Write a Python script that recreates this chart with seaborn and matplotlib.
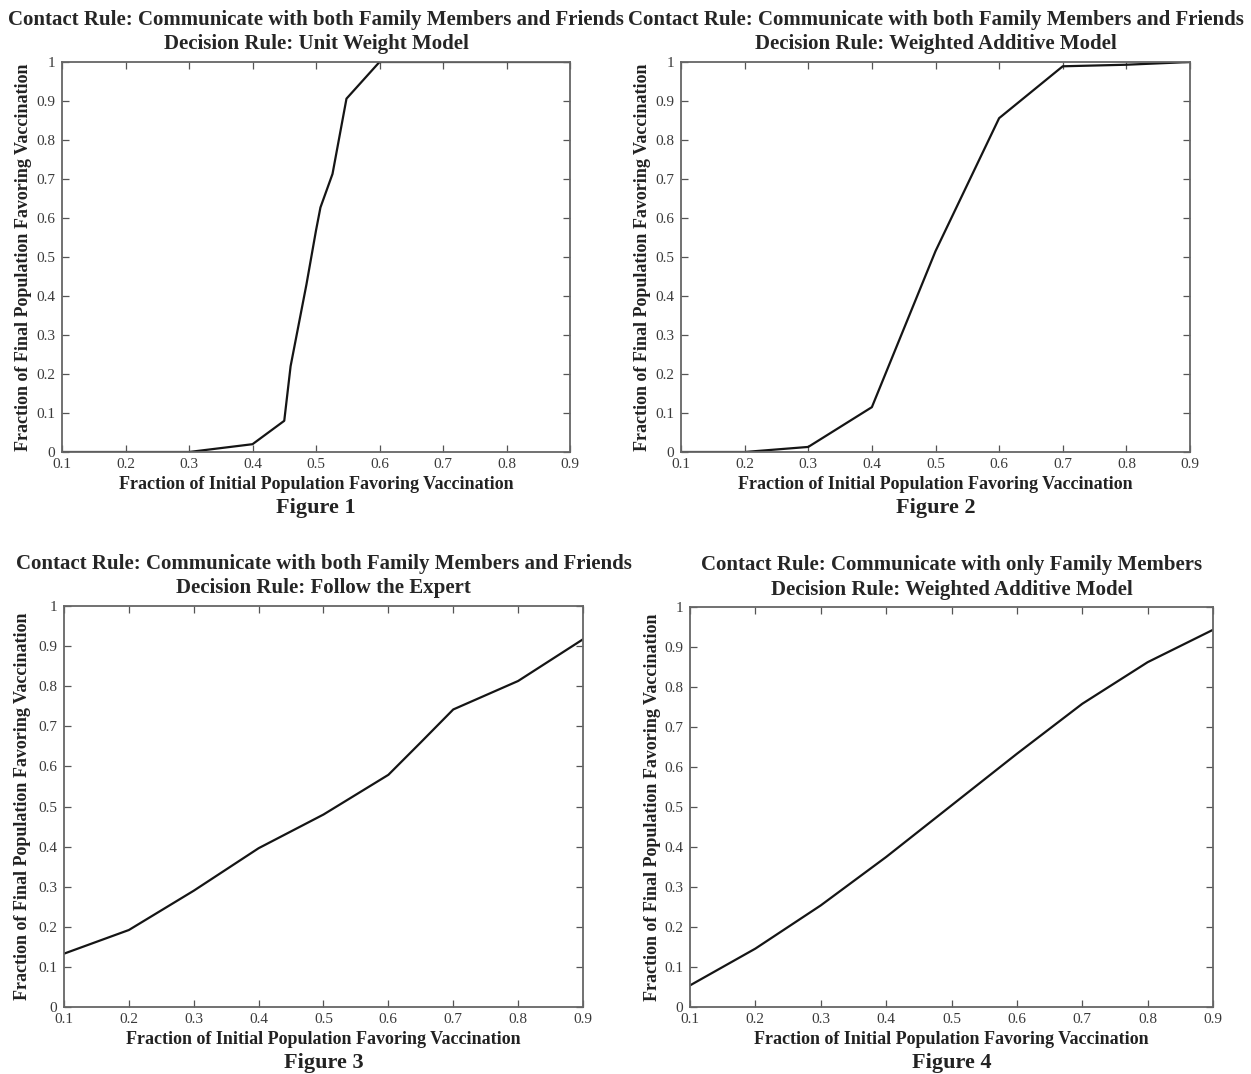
import matplotlib
matplotlib.use("Agg")
import matplotlib.pyplot as plt
import seaborn as sns
import pandas as pd

# Fraction of initial population favoring vaccination (x) vs final fraction (y)
x_fig1 = [0.1, 0.2, 0.3, 0.4, 0.45, 0.46, 0.485, 0.5, 0.507, 0.526, 0.548, 0.6, 0.7, 0.8, 0.9]
y_fig1 = [0.0, 0.0, 0.0, 0.02, 0.08, 0.22, 0.43, 0.568, 0.627, 0.713, 0.906, 1.0, 1.0, 1.0, 1.0]

x_fig2 = [0.1, 0.2, 0.3, 0.4, 0.5, 0.6, 0.7, 0.8, 0.9]
y_fig2 = [0.0, 0.0, 0.013, 0.115, 0.515, 0.856, 0.989, 0.993, 1.0]

x_fig3 = [0.1, 0.2, 0.3, 0.4, 0.5, 0.6, 0.65, 0.7, 0.8, 0.9]
y_fig3 = [0.133, 0.192, 0.29, 0.396, 0.48, 0.579, 0.66, 0.742, 0.813, 0.917]

x_fig4 = [0.1, 0.2, 0.3, 0.4, 0.5, 0.6, 0.7, 0.8, 0.9]
y_fig4 = [0.054, 0.146, 0.254, 0.375, 0.504, 0.633, 0.758, 0.862, 0.943]

titles = [
    "Contact Rule: Communicate with both Family Members and Friends\nDecision Rule: Unit Weight Model",
    "Contact Rule: Communicate with both Family Members and Friends\nDecision Rule: Weighted Additive Model",
    "Contact Rule: Communicate with both Family Members and Friends\nDecision Rule: Follow the Expert",
    "Contact Rule: Communicate with only Family Members\nDecision Rule: Weighted Additive Model",
]
figure_names = ["Figure 1", "Figure 2", "Figure 3", "Figure 4"]
x_label = "Fraction of Initial Population Favoring Vaccination"
y_label = "Fraction of Final Population Favoring Vaccination"
x_ticks = [0.1, 0.2, 0.3, 0.4, 0.5, 0.6, 0.7, 0.8, 0.9]
y_ticks = [0, 0.1, 0.2, 0.3, 0.4, 0.5, 0.6, 0.7, 0.8, 0.9, 1]
x_tick_labels = ["0.1", "0.2", "0.3", "0.4", "0.5", "0.6", "0.7", "0.8", "0.9"]
y_tick_labels = ["0", "0.1", "0.2", "0.3", "0.4", "0.5", "0.6", "0.7", "0.8", "0.9", "1"]

sns.set_theme(style="ticks")
plt.rcParams["font.family"] = ["Liberation Serif", "DejaVu Serif"]

W, H = 1251, 1074
fig = plt.figure(figsize=(W / 100, H / 100), dpi=100)
fig.patch.set_facecolor("white")

# axes boxes in pixels: left, right, top, bottom
boxes = [
    (62, 570, 62, 452),
    (681, 1190, 62, 452),
    (64, 583, 606, 1007),
    (690, 1213, 607, 1007),
]
ylabel_pad = [3, 3, 5, 2]

series = [(x_fig1, y_fig1), (x_fig2, y_fig2), (x_fig3, y_fig3), (x_fig4, y_fig4)]

for i, ((l, r, t, b), (xs, ys)) in enumerate(zip(boxes, series)):
    ax = fig.add_axes([l / W, 1 - b / H, (r - l) / W, (b - t) / H])
    df = pd.DataFrame({"x": xs, "y": ys})
    sns.lineplot(data=df, x="x", y="y", ax=ax, color="#151515", linewidth=1.6, sort=False)
    ax.set_xlim(0.1, 0.9)
    ax.set_ylim(0, 1)
    ax.set_xticks(x_ticks)
    ax.set_xticklabels(x_tick_labels)
    ax.set_yticks(y_ticks)
    ax.set_yticklabels(y_tick_labels)
    ax.tick_params(direction="in", length=5, width=0.9, color="#555555",
                   top=True, right=True, labelsize=11, labelcolor="#3a3a3a")
    ax.tick_params(axis="x", pad=4)
    ax.tick_params(axis="y", pad=5)
    for s in ax.spines.values():
        s.set_visible(True)
        s.set_color("#666666")
        s.set_linewidth(1.3)
    ax.set_title(titles[i], fontsize=15, fontweight="bold", pad=9, linespacing=1.3)
    ax.set_xlabel(x_label, fontsize=13, fontweight="bold", labelpad=4, color="#222222")
    ax.set_ylabel(y_label, fontsize=13, fontweight="bold", labelpad=ylabel_pad[i], color="#222222")
    ax.annotate(figure_names[i], xy=(0.5, 0), xycoords="axes fraction",
                xytext=(0, -40), textcoords="offset points",
                ha="center", va="center", fontsize=16, fontweight="bold", color="#222222")

fig.savefig("out.png", dpi=100, facecolor="white")
